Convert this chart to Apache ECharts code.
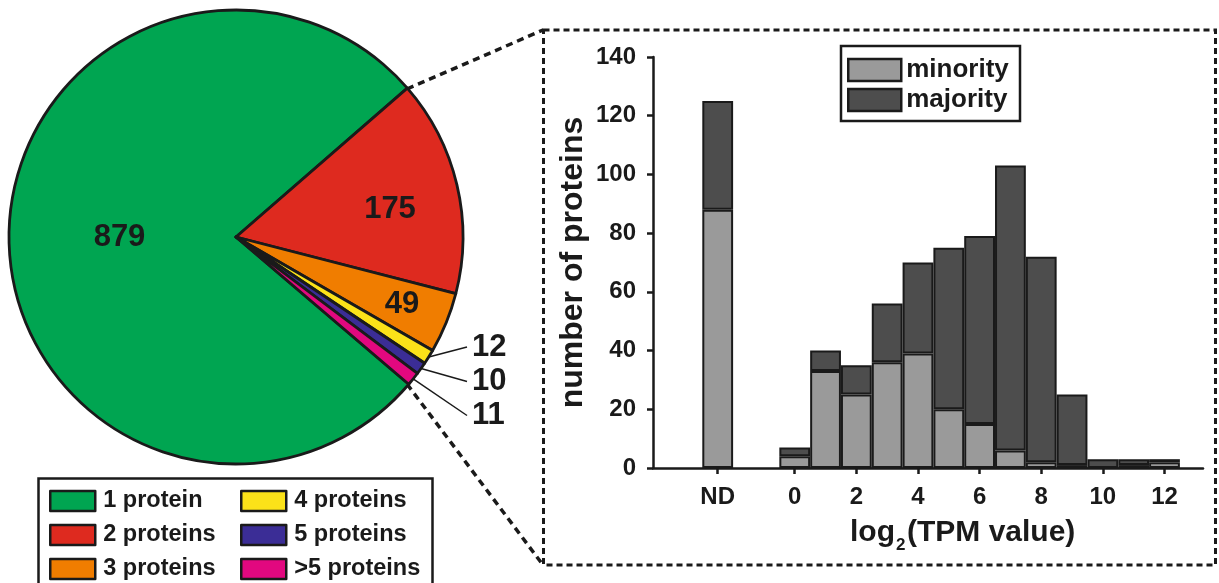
<!DOCTYPE html>
<html><head><meta charset="utf-8">
<script src="https://cdn.jsdelivr.net/npm/echarts@6/dist/echarts.min.js"></script>
<style>html,body{margin:0;padding:0;background:#fff}#c{width:1219px;height:583px}</style>
</head><body><div id="c"></div>
<script>
// ---------- data ----------
const pieCategories = ['1 protein', '2 proteins', '3 proteins', '4 proteins', '5 proteins', '>5 proteins'];
const pieValues = [879, 175, 49, 12, 10, 11];
const pieColors = ['#00a551', '#de2a1f', '#f07d00', '#fbe219', '#3b2d96', '#e2087f'];

const binCenters = [-2.5, 0, 1, 2, 3, 4, 5, 6, 7, 8, 9, 10, 11, 12];   // -2.5 = "ND"
const minorityValues = [88, 4, 33, 25, 36, 39, 20, 15, 6, 2, 1, 0, 1, 2];
const majorityValues = [37, 3, 7, 10, 20, 31, 55, 64, 97, 70, 24, 3, 2, 1];
const xTickValues = [-2.5, 0, 2, 4, 6, 8, 10, 12];
const xTickLabels = ['ND', '0', '2', '4', '6', '8', '10', '12'];

// ---------- styling / layout ----------
const FONT = '"Liberation Sans", Arial, Helvetica, sans-serif';
const INK = '#1a1a1a';
const pieLabelPos = { 1: [390, 209], 2: [402, 304], 3: [472, 347], 4: [472, 381.5], 5: [472, 415.5] };
const smallIdx = [3, 4, 5];

const chart = echarts.init(document.getElementById('c'), null, { renderer: 'canvas' });

const pieData = pieCategories.map((name, i) => {
  const item = { name, value: pieValues[i], itemStyle: { color: pieColors[i] } };
  if (smallIdx.includes(i)) {
    item.label = { position: 'outside' };
    item.labelLine = { show: true, length: 10, length2: 0, lineStyle: { color: INK, width: 1.5 } };
  }
  return item;
});

// value first, bin position second (encode maps them) so the stack is applied to the count
const toPairs = vals => binCenters.map((x, i) => [vals[i], x]);

const legendText = { fontFamily: FONT, fontWeight: 'bold', color: INK };

const option = {
  animation: false,
  backgroundColor: '#fff',
  grid: { left: 653, right: 16, top: 57, bottom: 115, outerBoundsMode: 'none', containLabel: false },
  xAxis: {
    type: 'value', min: -4.6, max: 13.25,
    axisLine: { show: true, onZero: false, lineStyle: { color: INK, width: 2.5 } },
    axisTick: { show: true, inside: false, length: 6, customValues: xTickValues, lineStyle: { color: INK, width: 2.5 } },
    axisLabel: {
      customValues: xTickValues, margin: 17,
      formatter: v => { const i = xTickValues.indexOf(v); return i >= 0 ? xTickLabels[i] : ''; },
      fontFamily: FONT, fontWeight: 'bold', fontSize: 24, color: INK
    },
    splitLine: { show: false }
  },
  yAxis: {
    type: 'value', min: 0, max: 140, interval: 20,
    name: 'number of proteins', nameLocation: 'middle', nameRotate: 90, nameGap: 64,
    nameTextStyle: { fontFamily: FONT, fontWeight: 'bold', fontSize: 32, color: INK },
    axisLine: { show: true, onZero: false, lineStyle: { color: INK, width: 2.5 } },
    axisTick: { show: true, inside: false, length: 6, lineStyle: { color: INK, width: 2.5 } },
    axisLabel: { margin: 17, fontFamily: FONT, fontWeight: 'bold', fontSize: 24, color: INK },
    splitLine: { show: false }
  },
  legend: [
    { data: pieCategories.slice(0, 3), orient: 'vertical', left: 49, top: 489, padding: 0, itemWidth: 45, itemHeight: 20, itemGap: 10,
      icon: 'rect', itemStyle: { borderColor: INK, borderWidth: 2.5 }, selectedMode: false,
      textStyle: Object.assign({ fontSize: 23.5, padding: [0, 0, 0, 3] }, legendText) },
    { data: pieCategories.slice(3), orient: 'vertical', left: 240, top: 489, padding: 0, itemWidth: 45, itemHeight: 20, itemGap: 10,
      icon: 'rect', itemStyle: { borderColor: INK, borderWidth: 2.5 }, selectedMode: false,
      textStyle: Object.assign({ fontSize: 23.5, padding: [0, 0, 0, 3] }, legendText) },
    { data: ['minority', 'majority'], orient: 'vertical', left: 847, top: 57, padding: 0, itemWidth: 53, itemHeight: 22, itemGap: 4,
      icon: 'rect', itemStyle: { borderColor: INK, borderWidth: 2.5 }, selectedMode: false,
      textStyle: Object.assign({ fontSize: 26 }, legendText) }
  ],
  series: [
    {
      type: 'pie', name: 'proteins', center: [236, 237], radius: 227,
      startAngle: 41 + 360 * pieValues[0] / pieValues.reduce((a, b) => a + b, 0),
      clockwise: true, avoidLabelOverlap: false,
      itemStyle: { borderColor: INK, borderWidth: 2.8 },
      label: { show: true, position: 'inside', formatter: '{c}', fontFamily: FONT, fontWeight: 'bold', fontSize: 31, color: INK },
      labelLine: { show: false },
      emphasis: { disabled: true },
      labelLayout: params => {
        const p = pieLabelPos[params.dataIndex];
        if (!p) return {};
        if (smallIdx.includes(params.dataIndex)) {
          const start = params.labelLinePoints ? params.labelLinePoints[0] : [p[0] - 40, p[1]];
          return { x: p[0], y: p[1], align: 'left', verticalAlign: 'middle',
            labelLinePoints: [start, [p[0] - 5, p[1]], [p[0] - 5, p[1]]] };
        }
        return { x: p[0], y: p[1], align: 'center', verticalAlign: 'middle' };
      },
      data: pieData
    },
    {
      type: 'bar', name: 'minority', stack: 'tpm', barWidth: 30.8, encode: { x: 1, y: 0 },
      itemStyle: { color: '#9a9a9a', borderColor: INK, borderWidth: 2 },
      emphasis: { disabled: true },
      data: toPairs(minorityValues)
    },
    {
      type: 'bar', name: 'majority', stack: 'tpm', barWidth: 30.8, encode: { x: 1, y: 0 },
      itemStyle: { color: '#4d4d4d', borderColor: INK, borderWidth: 2 },
      emphasis: { disabled: true },
      data: toPairs(majorityValues)
    }
  ],
  graphic: [
    { type: 'rect', shape: { x: 543.5, y: 30, width: 672, height: 535 }, style: { fill: 'none', stroke: INK, lineWidth: 3, lineDash: [6, 4] }, silent: true },
    { type: 'polyline', shape: { points: [[407, 89], [543, 30]] }, style: { stroke: INK, lineWidth: 3.5, lineDash: [7, 5] }, silent: true },
    { type: 'polyline', shape: { points: [[407, 384], [543, 565]] }, style: { stroke: INK, lineWidth: 3.5, lineDash: [7, 5] }, silent: true },
    { type: 'rect', shape: { x: 38.5, y: 478.5, width: 394, height: 120 }, style: { fill: 'none', stroke: INK, lineWidth: 2.5 }, silent: true },
    { type: 'rect', shape: { x: 841, y: 46, width: 179, height: 75 }, style: { fill: 'none', stroke: INK, lineWidth: 2.5 }, silent: true },
    { type: 'text', x: 850, y: 533, silent: true,
      style: { text: 'log', font: 'bold 30px ' + FONT, fill: INK, verticalAlign: 'middle', align: 'left' } },
    { type: 'text', x: 896, y: 545, silent: true,
      style: { text: '2', font: 'bold 17px ' + FONT, fill: INK, verticalAlign: 'middle', align: 'left' } },
    { type: 'text', x: 907, y: 533, silent: true,
      style: { text: '(TPM value)', font: 'bold 30px ' + FONT, fill: INK, verticalAlign: 'middle', align: 'left' } }
  ]
};
chart.setOption(option);
</script>
</body></html>
